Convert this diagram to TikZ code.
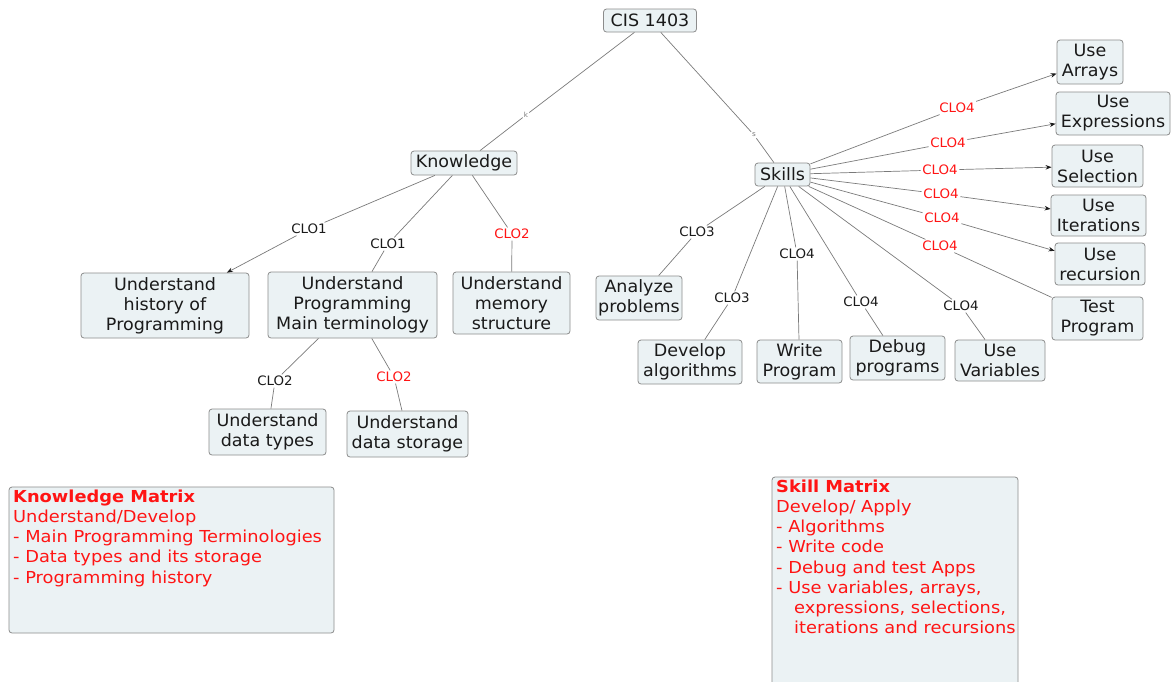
\documentclass[tikz,border=0pt]{standalone}
\usepackage{fontspec}
\setmainfont{DejaVu Sans}[FakeStretch=1.03]
\newfontfamily\matfont{DejaVu Sans}[FakeStretch=1.08]
\usetikzlibrary{arrows.meta}
\definecolor{boxfill}{HTML}{EBF2F4}
\definecolor{boxline}{HTML}{8C8C8C}
\definecolor{edgecol}{HTML}{7A7A7A}
\definecolor{txt}{HTML}{1A1A1A}
\definecolor{lblred}{HTML}{FF1414}
\tikzset{
  box/.style={draw=boxline, fill=boxfill, rounded corners=3pt, align=center, inner sep=1pt, text=txt, font=\fontsize{17}{20}\selectfont, line width=0.8pt},
  lbl/.style={font=\fontsize{13}{15}\selectfont, inner sep=1.5pt, text=txt},
  rlbl/.style={lbl, text=lblred},
  tiny/.style={font=\fontsize{7}{8}\selectfont, inner sep=1pt, text=edgecol},
  conn/.style={draw=edgecol, line width=0.7pt},
  arr/.style={conn, -{Stealth[length=6pt,width=4.5pt,color=txt]}},
  matrixbox/.style={draw=boxline, fill=boxfill, rounded corners=3pt, line width=0.8pt},
  matrixtext/.style={anchor=north west, align=left, text=lblred, inner sep=0pt, font=\matfont\fontsize{16.5}{20.2}\selectfont},
}
\begin{document}
\begin{tikzpicture}[x=1pt,y=-1pt]
\useasboundingbox (0,0) rectangle (1173,681);
\clip (0,0) rectangle (1173,681);
% nodes
\node[box, minimum width=93pt, minimum height=23pt] (cis) at (650,20.5) {CIS 1403};
\node[box, minimum width=106pt, minimum height=24pt] (know) at (464,163) {Knowledge};
\node[box, minimum width=55pt, minimum height=23pt] (skills) at (782.5,174.5) {Skills};
\node[box, minimum width=168pt, minimum height=65pt] (hist) at (165,305.5) {Understand\\history of\\Programming};
\node[box, minimum width=169pt, minimum height=66pt] (term) at (352.5,305) {Understand\\Programming\\Main terminology};
\node[box, minimum width=117pt, minimum height=62pt] (mem) at (511.5,303) {Understand\\memory\\structure};
\node[box, minimum width=117pt, minimum height=46pt] (dtypes) at (267.5,432) {Understand\\data types};
\node[box, minimum width=121pt, minimum height=46pt] (dstor) at (407.5,434) {Understand\\data storage};
\node[box, minimum width=86pt, minimum height=44pt] (analyze) at (639,298) {Analyze\\problems};
\node[box, minimum width=104pt, minimum height=44pt] (develop) at (690,362) {Develop\\algorithms};
\node[box, minimum width=85pt, minimum height=43pt] (write) at (799.5,361.5) {Write\\Program};
\node[box, minimum width=95pt, minimum height=44pt] (debug) at (897.5,358) {Debug\\programs};
\node[box, minimum width=90pt, minimum height=41pt] (usevar) at (1000,360.5) {Use\\Variables};
\node[box, minimum width=91pt, minimum height=43pt] (test) at (1097.5,318.5) {Test\\Program};
\node[box, minimum width=66pt, minimum height=44pt] (arrays) at (1090,62) {Use\\Arrays};
\node[box, minimum width=114pt, minimum height=43pt] (expr) at (1113,113.5) {Use\\Expressions};
\node[box, minimum width=91pt, minimum height=42pt] (sel) at (1097.5,166) {Use\\Selection};
\node[box, minimum width=95pt, minimum height=41pt] (iter) at (1098.5,215.5) {Use\\Iterations};
\node[box, minimum width=90pt, minimum height=42pt] (rec) at (1100,264) {Use\\recursion};
% labels
\node[tiny] (lk) at (526,115) {k};
\node[tiny] (ls) at (754,135) {s};
\node[lbl] (lhist) at (309,229) {CLO1};
\node[lbl] (lterm) at (388,244) {CLO1};
\node[rlbl] (lmem) at (512,234) {CLO2};
\node[lbl] (ldtypes) at (275,381) {CLO2};
\node[rlbl] (ldstor) at (394,377) {CLO2};
\node[lbl] (lanalyze) at (697,232) {CLO3};
\node[lbl] (ldevelop) at (732,298) {CLO3};
\node[lbl] (lwrite) at (797,254) {CLO4};
\node[lbl] (ldebug) at (861,302) {CLO4};
\node[lbl] (lusevar) at (961,306) {CLO4};
\node[rlbl] (ltest) at (940,246) {CLO4};
\node[rlbl] (larrays) at (957,108) {CLO4};
\node[rlbl] (lexpr) at (948,143) {CLO4};
\node[rlbl] (lsel) at (940,170) {CLO4};
\node[rlbl] (liter) at (941,194) {CLO4};
\node[rlbl] (lrec) at (942,218) {CLO4};
% connectors
\draw[conn] (cis) -- (lk) -- (know);
\draw[conn] (cis) -- (ls) -- (skills);
\draw[arr] (know) -- (lhist) -- (hist);
\draw[conn] (know) -- (lterm) -- (term);
\draw[conn] (know) -- (lmem) -- (mem);
\draw[conn] (term) -- (ldtypes) -- (dtypes);
\draw[conn] (term) -- (ldstor) -- (dstor);
\draw[conn] (skills) -- (lanalyze) -- (analyze);
\draw[conn] (skills) -- (ldevelop) -- (develop);
\draw[conn] (skills) -- (lwrite) -- (write);
\draw[conn] (skills) -- (ldebug) -- (debug);
\draw[conn] (skills) -- (lusevar) -- (usevar);
\draw[conn] (skills) -- (ltest) -- (test);
\draw[arr] (skills) -- (larrays) -- (arrays);
\draw[arr] (skills) -- (lexpr) -- (expr);
\draw[arr] (skills) -- (lsel) -- (sel);
\draw[arr] (skills) -- (liter) -- (iter);
\draw[arr] (skills) -- (lrec) -- (rec);
% matrices
\node[matrixbox, minimum width=325pt, minimum height=146pt] (kmat) at (171.5,560) {};
\node[matrixtext] (kmattext) at (13,489.5) {\textbf{Knowledge Matrix}\\Understand/Develop\\- Main Programming Terminologies\\- Data types and its storage\\- Programming history};
\node[matrixbox, minimum width=246pt, minimum height=230pt] (smat) at (895,592) {};
\node[matrixtext] (smattext) at (776,479.5) {\textbf{Skill Matrix}\\Develop/ Apply\\- Algorithms\\- Write code\\- Debug and test Apps\\- Use variables, arrays,\\\hspace*{18pt}expressions, selections,\\\hspace*{18pt}iterations and recursions};
\end{tikzpicture}
\end{document}
